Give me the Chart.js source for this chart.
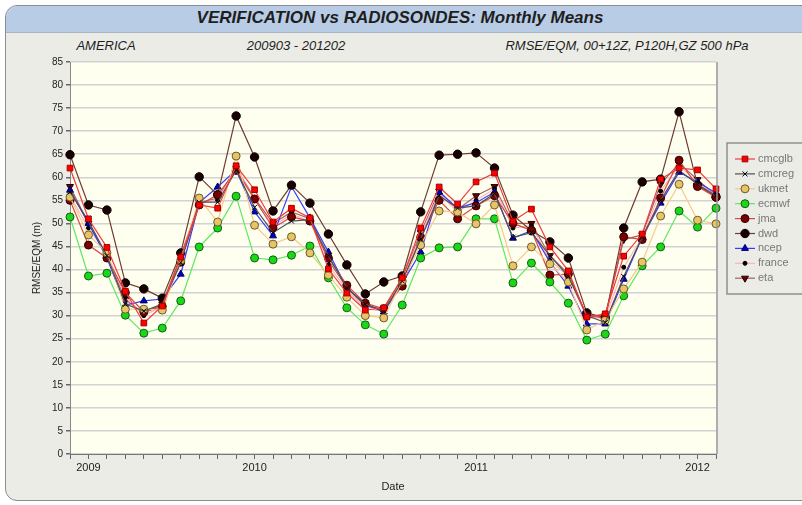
<!DOCTYPE html>
<html><head><meta charset="utf-8">
<script src="https://cdn.jsdelivr.net/npm/chart.js@4.4.0/dist/chart.umd.min.js"></script>
<style>
html,body{margin:0;padding:0;background:#ffffff;}
#wrap{position:relative;width:802px;height:505px;overflow:hidden;background:#ffffff;font-family:"Liberation Sans",Arial,sans-serif;}
#frame{position:absolute;left:5px;top:5px;width:820px;height:494px;border:1px solid #8c8c8c;border-radius:12px;background:#ececE7;overflow:hidden;}
#head{position:absolute;left:0;top:0;right:0;height:26px;background:#b9cce5;border-bottom:1px solid #a9b4c2;}
#title{position:absolute;left:0;top:8px;width:800px;text-align:center;font-weight:bold;font-style:italic;font-size:17px;line-height:20px;color:#1e1e1e;}
.sub{position:absolute;top:38px;font-style:italic;font-size:13px;line-height:16px;color:#1e1e1e;white-space:nowrap;transform:translateX(-50%);}
canvas{position:absolute;left:0;top:0;}
</style></head>
<body>
<div id="wrap">
  <div id="frame"><div id="head"></div></div>
  <div id="title">VERIFICATION vs RADIOSONDES: Monthly Means</div>
  <div class="sub" style="left:106px">AMERICA</div>
  <div class="sub" style="left:296px">200903 - 201202</div>
  <div class="sub" style="left:627px">RMSE/EQM, 00+12Z, P120H,GZ 500 hPa</div>
  <canvas id="c" width="802" height="505"></canvas>
</div>
<script>
const months = ['2009-03','2009-04','2009-05','2009-06','2009-07','2009-08','2009-09','2009-10','2009-11','2009-12',
  '2010-01','2010-02','2010-03','2010-04','2010-05','2010-06','2010-07','2010-08','2010-09','2010-10','2010-11','2010-12',
  '2011-01','2011-02','2011-03','2011-04','2011-05','2011-06','2011-07','2011-08','2011-09','2011-10','2011-11','2011-12',
  '2012-01','2012-02'];
const yearLabels = ['2009','2010','2011','2012'];
const yearLabelIndex = [1,10,22,34];
const yTicks = [0,5,10,15,20,25,30,35,40,45,50,55,60,65,70,75,80,85];

const seriesNames = ['cmcglb','cmcreg','ukmet','ecmwf','jma','dwd','ncep','france','eta'];
const cmcglb = [62.0,51.0,44.8,35.3,28.4,32.1,42.7,54.0,53.3,62.5,57.3,50.3,53.3,51.2,40.1,34.9,31.2,31.7,38.2,49.0,57.9,54.2,59.0,60.9,50.5,53.1,44.9,39.7,29.7,30.4,42.9,47.7,59.6,62.0,61.6,57.5];
const cmcreg = [56.8,50.5,43.0,32.5,31.0,32.5,41.5,54.6,54.6,61.5,53.5,48.0,50.5,50.8,43.0,36.0,32.5,31.0,37.5,46.6,56.0,53.3,53.8,56.5,47.0,48.0,43.0,38.5,30.0,28.5,38.5,47.0,55.0,61.5,58.5,56.0];
const ukmet = [55.7,47.5,43.6,31.4,31.4,31.2,42.0,55.5,50.3,64.6,49.6,45.5,47.1,43.6,38.8,34.0,30.0,29.5,37.5,45.3,52.7,52.5,49.9,54.0,40.8,44.9,41.2,37.3,26.9,29.0,35.8,41.6,51.6,58.5,50.7,49.9];
const ecmwf = [51.4,38.6,39.2,30.1,26.2,27.3,33.2,44.9,49.0,55.9,42.5,42.1,43.1,45.1,38.2,31.7,28.0,26.0,32.3,42.5,44.7,44.9,51.0,51.0,37.1,41.4,37.3,32.7,24.7,26.0,34.3,40.8,44.9,52.7,49.2,53.3];
const jma = [55.0,45.3,42.5,35.0,30.8,32.0,41.6,54.0,56.2,61.5,55.3,49.0,51.4,50.5,42.5,36.6,32.7,31.5,36.4,47.0,55.0,51.0,53.8,56.0,50.0,48.5,38.8,39.0,30.0,29.5,47.1,46.5,55.5,63.7,58.0,55.7];
const dwd = [64.9,54.0,52.9,37.1,35.8,33.8,43.6,60.1,56.2,73.3,64.4,52.7,58.3,54.4,47.7,41.0,34.7,37.3,38.6,52.5,64.8,65.0,65.3,62.0,51.8,48.4,46.0,42.5,30.6,29.5,49.0,59.0,59.6,74.2,58.3,55.7];
const ncep = [57.2,50.0,42.5,32.3,33.2,33.6,39.0,54.5,57.9,61.6,52.5,47.3,58.0,51.2,43.8,36.0,32.5,30.8,37.0,43.8,56.8,53.3,54.5,56.8,46.8,48.4,41.6,36.4,28.2,28.2,37.9,47.0,54.4,61.1,59.0,56.6];
const france = [56.0,49.0,43.5,34.0,30.0,32.0,42.0,54.5,55.0,62.0,55.0,49.5,52.0,50.5,41.0,35.5,31.5,31.0,37.5,47.5,56.5,52.5,55.0,57.5,49.0,49.5,42.0,38.5,29.5,29.5,40.5,47.0,57.0,62.5,59.0,56.0];
const eta = [58.0,50.0,43.0,33.5,30.5,32.5,43.0,54.5,55.5,62.0,55.5,50.0,52.5,51.0,42.0,36.0,32.0,31.5,38.0,48.0,57.0,53.0,56.0,58.0,50.0,50.0,43.0,39.0,30.0,30.0,46.5,47.5,58.5,63.0,59.5,56.0];

const styles = {
  cmcglb:{line:'#f03c3c', fill:'#ff0000', border:'#a00000', pointStyle:'rect', radius:4, rotation:0},
  cmcreg:{line:'#505050', fill:'#000000', border:'#000000', pointStyle:'crossRot', radius:3.5, rotation:0},
  ukmet:{line:'#f6c98c', fill:'#e8c464', border:'#6a5a30', pointStyle:'circle', radius:4, rotation:0},
  ecmwf:{line:'#5ee85e', fill:'#18d818', border:'#1a5a1a', pointStyle:'circle', radius:4, rotation:0},
  jma:{line:'#d84848', fill:'#7a0000', border:'#300000', pointStyle:'circle', radius:4, rotation:0},
  dwd:{line:'#6e3c30', fill:'#1a0000', border:'#000000', pointStyle:'circle', radius:4.2, rotation:0},
  ncep:{line:'#3a3aff', fill:'#0000cc', border:'#000060', pointStyle:'triangle', radius:4, rotation:0},
  france:{line:'#ffb4b4', fill:'#000000', border:'#000000', pointStyle:'circle', radius:2, rotation:0},
  eta:{line:'#a86060', fill:'#6a0000', border:'#200000', pointStyle:'triangle', radius:4, rotation:180}
};
const seriesData = {cmcglb, cmcreg, ukmet, ecmwf, jma, dwd, ncep, france, eta};

const datasets = seriesNames.map(n => ({
  label: n,
  data: seriesData[n],
  borderColor: styles[n].line,
  borderWidth: 1.2,
  backgroundColor: styles[n].fill,
  pointBackgroundColor: styles[n].fill,
  pointBorderColor: styles[n].border,
  pointBorderWidth: 1,
  pointStyle: styles[n].pointStyle,
  pointRadius: styles[n].radius,
  pointRotation: styles[n].rotation,
  tension: 0,
  fill: false
}));

const CA = {left:70, right:716, top:62, bottom:454};

const bgPlugin = {
  id:'bg',
  beforeDraw(chart){
    const {ctx, chartArea:a} = chart;
    ctx.save();
    ctx.fillStyle = '#fffff0';
    ctx.fillRect(a.left, a.top, a.right-a.left, a.bottom-a.top);
    ctx.restore();
  },
  afterDraw(chart){
    const {ctx, chartArea:a} = chart;
    ctx.save();
    ctx.strokeStyle = '#9a9a9a';
    ctx.lineWidth = 1.5;
    ctx.beginPath();
    ctx.moveTo(a.right+1, a.top); ctx.lineTo(a.right+1, a.bottom);
    ctx.stroke();
    // legend
    const bx = 727, by = 143, bw = 80, bh = 151;
    ctx.strokeStyle = '#8f8f8f';
    ctx.lineWidth = 1.5;
    ctx.strokeRect(bx, by, bw, bh);
    ctx.font = '11px "Liberation Sans", Arial, sans-serif';
    ctx.textBaseline = 'middle';
    chart.data.datasets.forEach((ds, k) => {
      const y = 159 + k*14.9;
      const st = styles[ds.label];
      ctx.strokeStyle = st.line;
      ctx.lineWidth = 1.2;
      ctx.beginPath(); ctx.moveTo(735, y); ctx.lineTo(755, y); ctx.stroke();
      ctx.fillStyle = st.fill;
      ctx.strokeStyle = st.border;
      ctx.lineWidth = 1;
      Chart.helpers.drawPoint(ctx, {pointStyle: st.pointStyle, rotation: st.rotation, radius: st.radius, borderWidth: 1}, 745, y);
      ctx.fillStyle = '#777';
      ctx.fillText(ds.label, 758, y);
    });
    ctx.restore();
  }
};

new Chart(document.getElementById('c'), {
  type:'line',
  data:{labels: months, datasets},
  plugins:[bgPlugin],
  options:{
    responsive:false,
    animation:false,
    layout:{padding:{left:0, top:CA.top, right:802-CA.right, bottom:0}},
    plugins:{legend:{display:false}, tooltip:{enabled:false}, title:{display:false}},
    scales:{
      x:{
        type:'category',
        offset:false,
        afterFit(s){ s.height = 505 - CA.bottom; },
        grid:{display:true, drawOnChartArea:false, drawTicks:true, tickLength:5, tickColor:'#666', color:'#666'},
        border:{display:true, color:'#777', width:1},
        ticks:{autoSkip:false, maxRotation:0, minRotation:0, padding:2, color:'#222',
          font:{family:'"Liberation Sans", Arial, sans-serif', size:11},
          callback:(v,i)=>{ const k = yearLabelIndex.indexOf(i); return k>=0 ? yearLabels[k] : ''; }},
        title:{display:true, text:'Date', color:'#222', font:{family:'"Liberation Sans", Arial, sans-serif', size:11}, padding:{top:0,bottom:11}}
      },
      y:{
        min:0, max:85,
        afterFit(s){ s.width = CA.left; },
        afterBuildTicks(s){ s.ticks = yTicks.map(v=>({value:v})); },
        grid:{color:'#d2d2d2', lineWidth:1.5, drawTicks:true, tickLength:4, tickColor:'#666'},
        border:{display:true, color:'#888', width:1},
        ticks:{padding:3, color:'#222', font:{family:'"Liberation Sans", Arial, sans-serif', size:10}},
        title:{display:true, text:'RMSE/EQM (m)', color:'#222', font:{family:'"Liberation Sans", Arial, sans-serif', size:10}, padding:{top:31,bottom:0}}
      }
    }
  }
});
</script>
</body></html>
